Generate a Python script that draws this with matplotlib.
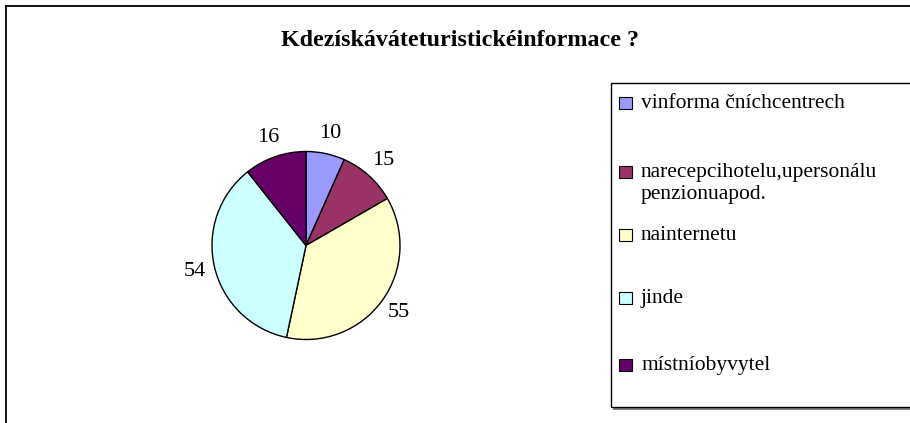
import matplotlib.pyplot as plt
from matplotlib.patches import Rectangle
from matplotlib.lines import Line2D

# data
titulek = "Kdezískáváteturistickéinformace ?"
kategorie = ["vinforma čníchcentrech",
             "narecepcihotelu,upersonálu\npenzionuapod.",
             "nainternetu",
             "jinde",
             "místníobyvytel"]
hodnoty = [10, 15, 55, 54, 16]
barvy = ["#9999FF", "#993366", "#FFFFCC", "#CCFFFF", "#660066"]

W, H = 910, 423
fig = plt.figure(figsize=(W / 100, H / 100), dpi=100)
plt.rcParams['font.family'] = ['Liberation Serif', 'DejaVu Serif']


def px(x, y):
    # pixel (from top-left) -> figure fraction
    return x / W, 1 - y / H


# outer frame (top and left only visible)
fig.add_artist(Line2D([6 / W, 1], [1 - 6 / H, 1 - 6 / H], color="black", lw=1.3))
fig.add_artist(Line2D([6 / W, 6 / W], [0, 1 - 6 / H], color="black", lw=1.3))

# title
fig.text(*px(460, 40), titulek, ha="center", va="center",
         fontsize=17.3, fontweight="bold")

# pie
cx, cy, r = 306, 245.5, 94
half = 130
ax = fig.add_axes([(cx - half) / W, 1 - (cy + half) / H, 2 * half / W, 2 * half / H])
wedges, texts = ax.pie(hodnoty, labels=[str(v) for v in hodnoty], colors=barvy,
                       startangle=90, counterclock=False, labeldistance=1.22,
                       wedgeprops={"edgecolor": "black", "linewidth": 1.0},
                       textprops={"fontsize": 16})
ax.set_xlim(-half / r, half / r)
ax.set_ylim(-half / r, half / r)
ax.set_aspect("equal")
ax.axis("off")
for t in texts:
    t.set_ha("center")
    t.set_va("center")

# legend box with shadow
fig.add_artist(Rectangle((613 / W, 1 - 410 / H), 1, 3 / H, transform=fig.transFigure,
                         facecolor="#808080", edgecolor="none"))
fig.add_artist(Rectangle((611 / W, 1 - 407 / H), 1, (407 - 83) / H, transform=fig.transFigure,
                         facecolor="white", edgecolor="black", lw=1.0))

legend_y = [103, 183.5, 235, 298, 365]
for label, barva, y in zip(kategorie, barvy, legend_y):
    if "\n" in label:
        sq_y = y - 11.5
    else:
        sq_y = y
    fig.add_artist(Rectangle((619 / W, 1 - (sq_y + 6) / H), 13 / W, 12 / H,
                             transform=fig.transFigure, facecolor=barva,
                             edgecolor="black", lw=0.8))
    fig.text(*px(641, y), label, ha="left", va="center", fontsize=15.5,
             linespacing=1.2)

plt.savefig("out.png", dpi=100)
plt.close()
